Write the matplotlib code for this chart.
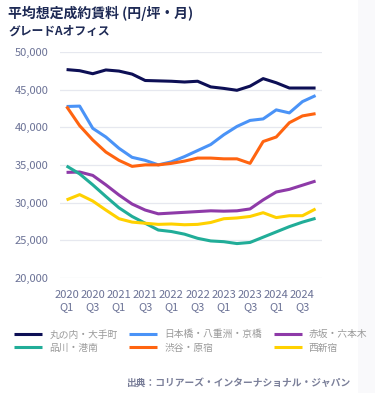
import matplotlib
matplotlib.use("Agg")
import matplotlib.pyplot as plt
from matplotlib.patches import Rectangle

plt.rcParams['font.family'] = ['Noto Sans CJK JP', 'DejaVu Sans']

quarters = ['2020\nQ1', '2020\nQ3', '2021\nQ1', '2021\nQ3', '2022\nQ1',
            '2022\nQ3', '2023\nQ1', '2023\nQ3', '2024\nQ1', '2024\nQ3']

marunouchi = [47650, 47500, 47100, 47600, 47450, 47050, 46200, 46150, 46100, 46000,
              46100, 45350, 45150, 44900, 45450, 46450, 45900, 45200, 45200, 45200]
nihonbashi = [42750, 42800, 39850, 38700, 37200, 36000, 35600, 35000, 35400, 36100,
              36900, 37700, 39000, 40100, 40900, 41100, 42300, 41900, 43400, 44200]
akasaka = [34000, 34050, 33600, 32350, 31000, 29800, 29000, 28500, 28600, 28700,
           28800, 28900, 28850, 28900, 29150, 30350, 31400, 31750, 32300, 32850]
shinagawa = [34850, 33800, 32350, 30800, 29300, 28150, 27250, 26350, 26150, 25800,
             25250, 24900, 24800, 24550, 24700, 25400, 26100, 26800, 27400, 27900]
shibuya = [42750, 40200, 38300, 36700, 35600, 34800, 35000, 35000, 35200, 35500,
           35900, 35900, 35800, 35800, 35200, 38100, 38700, 40600, 41500, 41800]
nishishinjuku = [30350, 31050, 30200, 29000, 27850, 27400, 27250, 27100, 27150, 27050,
                 27100, 27350, 27850, 27950, 28150, 28650, 28000, 28250, 28250, 29150]

series = [
    ('丸の内・大手町', marunouchi, '#0d0f55'),
    ('日本橋・八重洲・京橋', nihonbashi, '#4a93f7'),
    ('赤坂・六本木', akasaka, '#8e3aa8'),
    ('品川・港南', shinagawa, '#21ad98'),
    ('渋谷・原宿', shibuya, '#ff6410'),
    ('西新宿', nishishinjuku, '#ffd100'),
]

fig = plt.figure(figsize=(3.75, 3.93), dpi=100)
fig.patches.append(Rectangle((0.955, 0), 0.045, 1, transform=fig.transFigure,
                             facecolor='#f9f9fb', edgecolor='none', zorder=-1))
ax = fig.add_axes([0.16, 0.293, 0.699, 0.575])

x = list(range(len(marunouchi)))
handles = {}
for name, vals, col in series:
    h, = ax.plot(x, vals, color=col, lw=2.2, label=name, solid_capstyle='butt')
    handles[name] = h

ax.set_xlim(-0.5, 19.5)
ax.set_ylim(20000, 50000)
ax.set_yticks([20000, 25000, 30000, 35000, 40000, 45000, 50000])
ax.set_yticklabels(['{:,}'.format(v) for v in ax.get_yticks().astype(int)])
ax.set_xticks(range(0, 20, 2))
ax.set_xticklabels(quarters, linespacing=1.25)
ax.tick_params(length=0, labelsize=8, colors='#6b7296')
ax.tick_params(axis='x', pad=9)
ax.tick_params(axis='y', pad=8)
ax.grid(axis='y', color='#e6e8ef', lw=0.9)
ax.set_axisbelow(True)
for s in ax.spines.values():
    s.set_visible(False)

fig.text(0.022, 0.965, '平均想定成約賃料 (円/坪・月)', fontsize=10, fontweight='bold',
         color='#1e2a55', va='center')
fig.text(0.022, 0.922, 'グレードAオフィス', fontsize=8.5, fontweight='bold',
         color='#1e2a55', va='center')

order = ['丸の内・大手町', '品川・港南', '日本橋・八重洲・京橋', '渋谷・原宿',
         '赤坂・六本木', '西新宿']
fig.legend([handles[n] for n in order], order, ncol=3, loc='upper left',
           bbox_to_anchor=(0.038, 0.162), frameon=False, fontsize=7,
           labelcolor='#9a9a9a', handlelength=2.9, handletextpad=0.7,
           columnspacing=1.2, labelspacing=0.35, borderpad=0, borderaxespad=0)

fig.text(0.935, 0.025, '出典：コリアーズ・インターナショナル・ジャパン', fontsize=7,
         fontweight='bold', style='italic', color='#7a7f99', ha='right', va='center')

fig.savefig('out.png', dpi=100)
